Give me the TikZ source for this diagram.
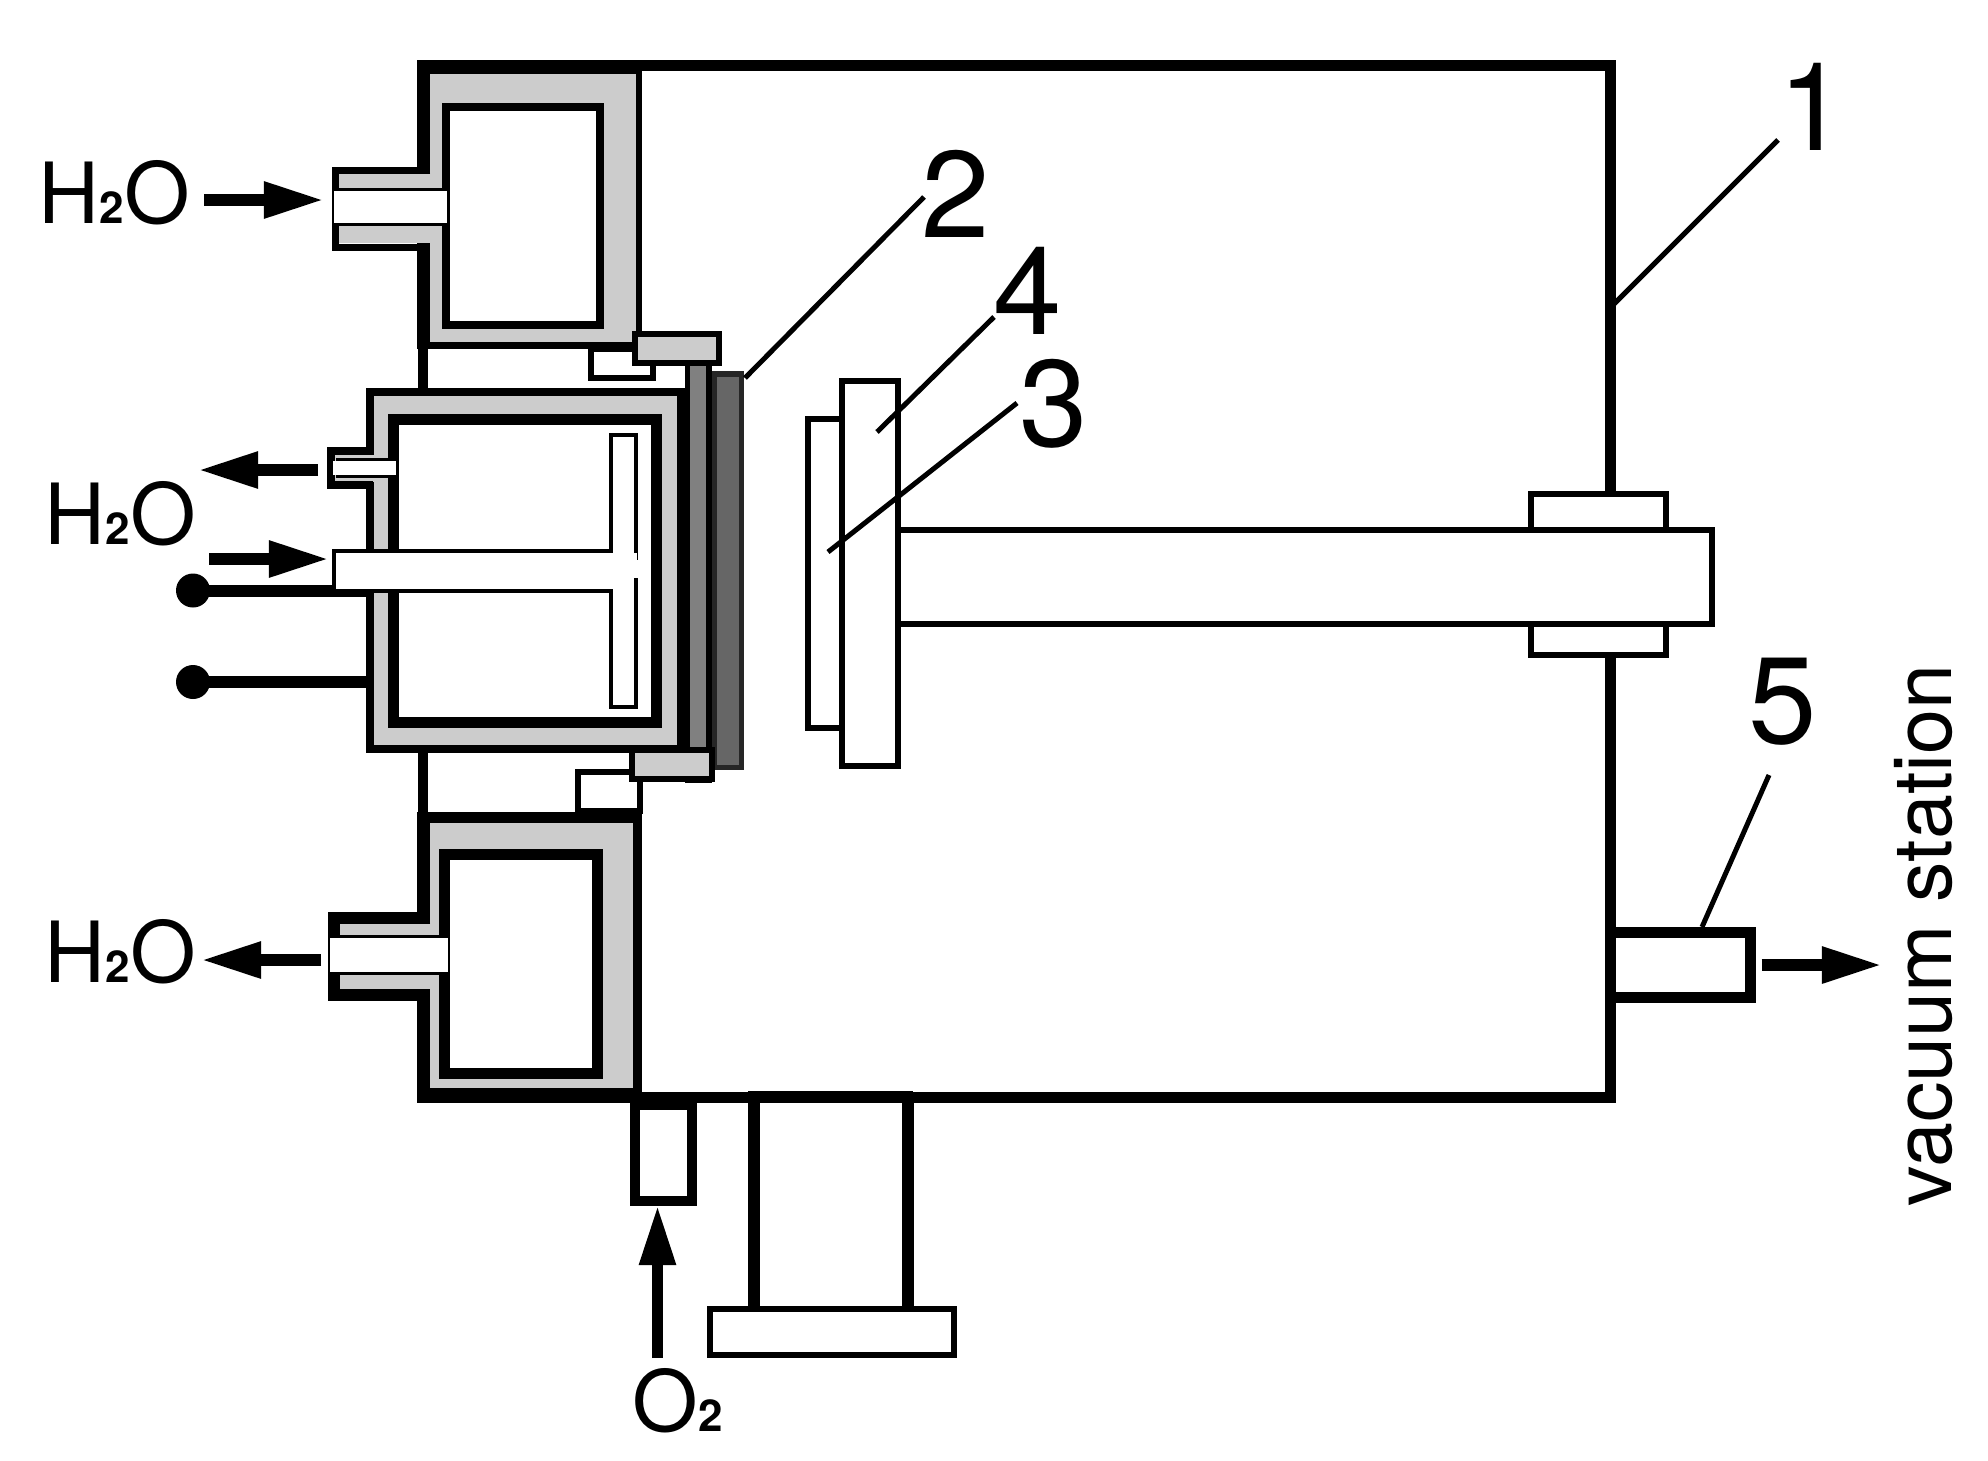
\documentclass[tikz,border=0pt]{standalone}
\usepackage{fontspec}
\setmainfont{TeX Gyre Heros}
\usetikzlibrary{arrows.meta}

\definecolor{coolgray}{gray}{0.8}
\definecolor{platemid}{gray}{0.5}
\definecolor{platedark}{gray}{0.4}

\newcommand{\smalltwo}{{\fontsize{12.5pt}{12.5pt}\selectfont\bfseries 2}}

\tikzset{
  tag/.style={inner sep=0pt, font=\fontsize{24pt}{24pt}\selectfont},
  num/.style={inner sep=0pt, anchor=base, font=\fontsize{35pt}{35pt}\selectfont},
  flow/.style={line width=0.115cm, -{Triangle[length=0.6cm,width=0.34cm]}},
  leader/.style={line width=0.05cm},
  part/.style={draw=black, fill=white, line width=0.06cm},
  clamp/.style={draw=black, fill=coolgray, line width=0.06cm},
}

\begin{document}
\begin{tikzpicture}[x=0.01cm, y=-0.01cm]
  \useasboundingbox (0,0) rectangle (1988,1460);

  % Chamber wall
  \draw[line width=0.11cm] (636,65.5) -- (1610.5,65.5) -- (1610.5,1097.5) -- (636,1097.5);

  % Upper cooling jacket
  \fill[coolgray] (430,70) -- (636,70) -- (636,345) -- (430,345) -- (430,243) -- (339,243) -- (339,174) -- (430,174) -- cycle;
  \draw[line width=0.14cm] (417,67) -- (642,67);
  \draw[line width=0.13cm] (423.5,60) -- (423.5,174);
  \draw[line width=0.13cm] (423.5,243) -- (423.5,349);
  \draw[line width=0.07cm] (430,170.5) -- (335.5,170.5) -- (335.5,247.5) -- (430,247.5);
  \draw[line width=0.07cm] (417,345.5) -- (636,345.5);
  \draw[line width=0.06cm] (639,60) -- (639,349);
  \draw[part, line width=0.08cm] (446,107) rectangle (600,325);
  \fill[white] (334,191) rectangle (447,223);
  \draw[line width=0.03cm] (339,189.5) -- (442,189.5);
  \draw[line width=0.03cm] (339,224.5) -- (442,224.5);

  % Wall pieces between the jackets
  \draw[line width=0.1cm] (422.5,349) -- (422.5,388);
  \draw[line width=0.1cm] (422.5,753) -- (422.5,812);

  % Lower cooling jacket
  \fill[coolgray] (430,820) -- (633,820) -- (633,1090) -- (430,1090) -- (430,989) -- (339,989) -- (339,924) -- (430,924) -- cycle;
  \draw[line width=0.11cm] (417,817.5) -- (642,817.5);
  \draw[line width=0.15cm] (417,1095.5) -- (642,1095.5);
  \draw[line width=0.13cm] (423.5,812) -- (423.5,924);
  \draw[line width=0.13cm] (423.5,989) -- (423.5,1103);
  \draw[line width=0.12cm] (430,918) -- (333.5,918) -- (333.5,995) -- (430,995);
  \draw[line width=0.09cm] (637.5,812) -- (637.5,1103);
  \draw[part, line width=0.11cm] (444.5,854) rectangle (597.5,1073.5);
  \fill[white] (330,938) rectangle (448,972);
  \draw[line width=0.03cm] (339,936.5) -- (439,936.5);
  \draw[line width=0.03cm] (339,973.5) -- (439,973.5);

  % Small boxes next to the clamps
  \draw[part] (591,349) rectangle (653,378);
  \draw[part] (577.5,772) rectangle (640,811);

  % Cathode plates
  \draw[fill=platemid, line width=0.055cm] (687.5,350) rectangle (709,780.5);
  \draw[draw=black!85, fill=platedark, line width=0.055cm] (714.5,374) rectangle (741.5,767.5);

  % Magnetron body
  \fill[coolgray] (370,392) rectangle (681,749);
  \draw[line width=0.08cm] (681,392) -- (370,392) -- (370,749) -- (681,749);
  \fill (677,388) rectangle (690,753);
  \draw[part, line width=0.11cm] (393.5,419.5) rectangle (656.5,722.5);

  % Small outlet on the magnetron
  \fill[coolgray] (333,455) rectangle (374,482);
  \draw[line width=0.08cm] (373,451) -- (331,451) -- (331,484.5) -- (373,484.5);
  \draw[line width=0.03cm] (336,459.5) -- (394,459.5);
  \draw[line width=0.03cm] (336,476.5) -- (394,476.5);
  \fill[white] (333,461) rectangle (396,475);

  % Clamps
  \draw[clamp] (635,334) rectangle (719,363);
  \draw[clamp] (631.5,750) rectangle (711.5,779);

  % Electric contacts
  \coordinate (wireA) at (366,591);
  \coordinate (wireB) at (366,682);
  \fill (193,590.5) coordinate (dotA) circle (17);
  \fill (193,682) coordinate (dotB) circle (17);
  \draw[line width=0.115cm] (dotA |- wireA) -- (wireA);
  \draw[line width=0.115cm] (dotB) -- (wireB);

  % T shaped water pipe
  \draw[part, line width=0.04cm] (611,435) rectangle (635.5,707);
  \draw[line width=0.04cm, fill=white] (612,551) -- (334,551) -- (334,590.5) -- (612,590.5);
  \fill[white] (609,553) rectangle (637,560);
  \fill[white] (609,560) rectangle (640,578);
  \fill[white] (609,578) rectangle (634,588.5);

  % Substrate holder, shaft and table
  \draw[part] (808,419) rectangle (842,728);
  \draw[part] (1531,494) rectangle (1666,655);
  \draw[part] (898,530) -- (1712,530) -- (1712,623.5) -- (898,623.5);
  \draw[part] (842,381) rectangle (898,766);

  % Bottom ports
  \draw[part, line width=0.1cm] (635,1105) rectangle (692,1201);
  \draw[draw=black, line width=0.125cm] (754,1092) -- (754,1310);
  \draw[draw=black, line width=0.125cm] (908,1092) -- (908,1310);
  \draw[draw=black, line width=0.07cm] (748,1094) -- (913,1094);
  \draw[part] (710,1309) rectangle (954,1355);

  % Pump port
  \draw[part, line width=0.11cm] (1610,932.5) rectangle (1750,997.5);

  % Flow arrows
  \coordinate (inA) at (204,200);
  \coordinate (inAend) at (324,200);
  \coordinate (outB) at (318,470);
  \coordinate (outBend) at (198,470);
  \coordinate (inC) at (209,559);
  \coordinate (inCend) at (329,559);
  \coordinate (outD) at (321,960);
  \coordinate (outDend) at (201,960);
  \coordinate (gasIn) at (657.5,1358);
  \coordinate (gasInend) at (657.5,1205);
  \coordinate (pumpOut) at (1761.5,965);
  \coordinate (pumpOutend) at (1882,965);
  \draw[flow] (inA) -- (inAend);
  \draw[flow] (outB) -- (outBend);
  \draw[flow] (inC) -- (inCend);
  \draw[flow] (outD) -- (outDend);
  \draw[flow] (gasIn) -- (gasInend);
  \draw[flow] (pumpOut) -- (pumpOutend);

  % Part numbers and their leaders
  \node[num] (numA) at (1813,150) {1};
  \node[num] (numB) at (956,237) {2};
  \node[num] (numD) at (1027.5,334) {4};
  \node[num] (numC) at (1054,446) {3};
  \node[num] (numE) at (1783,743) {5};
  \coordinate (wallP) at (1614,304);
  \coordinate (plateP) at (745,378);
  \coordinate (tableP) at (877,432);
  \coordinate (holderP) at (828,552);
  \coordinate (portP) at (1702,927);
  \coordinate (numAend) at (1778,140);
  \coordinate (numBend) at (924,197);
  \coordinate (numDend) at (994,317);
  \coordinate (numCend) at (1017,403);
  \coordinate (numEend) at (1769,775);
  \draw[leader] (numAend) -- (wallP);
  \draw[leader] (numBend) -- (plateP);
  \draw[leader] (numDend) -- (tableP);
  \draw[leader] (numCend) -- (holderP);
  \draw[leader] (numEend) -- (portP);

  % Texts
  \node[tag, anchor=base west] (waterA) at (38,223) {H\smalltwo O};
  \node[tag, anchor=base west] (waterB) at (44,544) {H\smalltwo O};
  \node[tag, anchor=base west] (waterC) at (44,982) {H\smalltwo O};
  \node[tag, anchor=base west] (oxygen) at (632,1431) {O\smalltwo};
  \node[tag, anchor=base west, rotate=90, font=\fontsize{23pt}{23pt}\selectfont] (pump) at (1951,1207) {vacuum station};
\end{tikzpicture}
\end{document}
